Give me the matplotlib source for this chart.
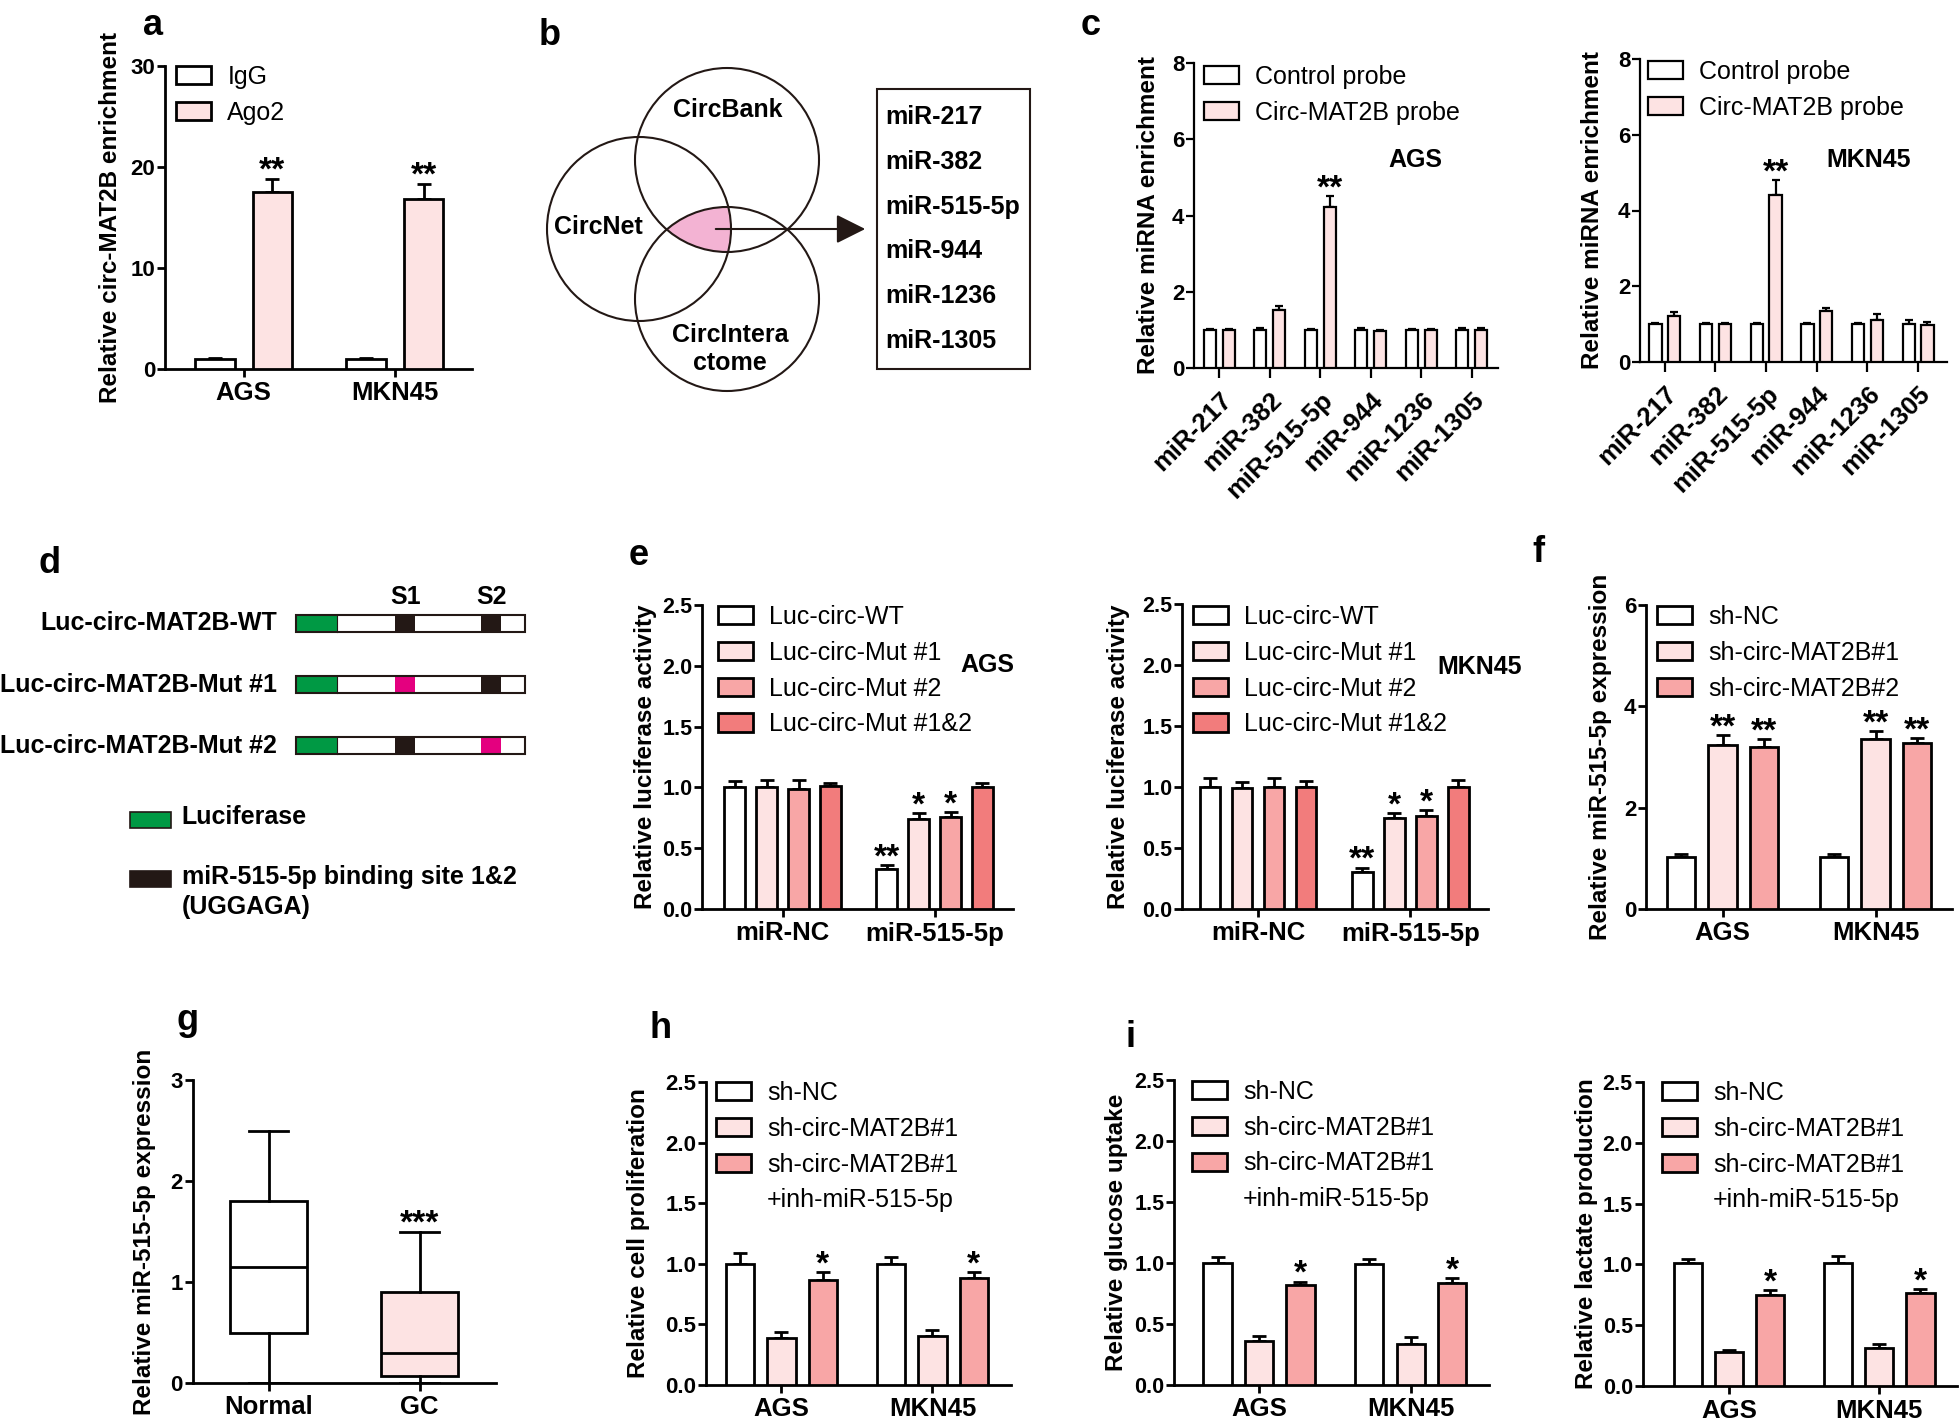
import numpy as np
import matplotlib
matplotlib.use('Agg')
import matplotlib.pyplot as plt
from matplotlib import font_manager
from matplotlib.patches import Rectangle, Circle, Polygon, Patch
from matplotlib.transforms import Affine2D

plt.rcParams['font.family'] = ['Liberation Sans', 'DejaVu Sans']

W, H = 1959, 1420

# ---------------- data ----------------
# a: RIP assay
a_groups = ['AGS', 'MKN45']
a_labels = ['IgG', 'Ago2']
a_igg = [1.0, 1.0]
a_igg_err = [0.05, 0.05]
a_ago2 = [17.5, 16.8]
a_ago2_err = [1.35, 1.55]

# b: venn overlap
b_databases = ['CircBank', 'CircNet', 'CircIntera\nctome']
b_mirnas = ['miR-217', 'miR-382', 'miR-515-5p', 'miR-944', 'miR-1236', 'miR-1305']

# c: RNA pull-down
c_mirnas = ['miR-217', 'miR-382', 'miR-515-5p', 'miR-944', 'miR-1236', 'miR-1305']
c_labels = ['Control probe', 'Circ-MAT2B probe']
c_ags_ctrl = [1.0, 1.0, 1.0, 1.0, 1.0, 1.0]
c_ags_ctrl_err = [0.03, 0.04, 0.02, 0.04, 0.03, 0.05]
c_ags_probe = [1.0, 1.52, 4.23, 0.98, 1.0, 1.0]
c_ags_probe_err = [0.03, 0.10, 0.29, 0.02, 0.03, 0.04]
c_mkn_ctrl = [1.0, 1.0, 1.0, 1.0, 1.0, 1.01]
c_mkn_ctrl_err = [0.04, 0.04, 0.03, 0.03, 0.03, 0.09]
c_mkn_probe = [1.22, 1.0, 4.40, 1.34, 1.12, 0.98]
c_mkn_probe_err = [0.09, 0.02, 0.40, 0.08, 0.14, 0.07]

# d: reporter constructs
d_constructs = ['Luc-circ-MAT2B-WT', 'Luc-circ-MAT2B-Mut #1', 'Luc-circ-MAT2B-Mut #2']
d_sites = ['S1', 'S2']
d_site_mutated = [[False, False], [True, False], [False, True]]
d_legend = ['Luciferase', 'miR-515-5p binding site 1&2\n(UGGAGA)']

# e: luciferase reporter
e_groups = ['miR-NC', 'miR-515-5p']
e_labels = ['Luc-circ-WT', 'Luc-circ-Mut #1', 'Luc-circ-Mut #2', 'Luc-circ-Mut #1&2']
e_ags = [[1.0, 0.33], [1.0, 0.74], [0.99, 0.76], [1.01, 1.0]]
e_ags_err = [[0.05, 0.03], [0.06, 0.05], [0.07, 0.035], [0.03, 0.04]]
e_mkn = [[1.0, 0.30], [0.99, 0.75], [1.0, 0.76], [1.0, 1.0]]
e_mkn_err = [[0.07, 0.04], [0.05, 0.035], [0.07, 0.05], [0.05, 0.06]]

# f: miR-515-5p after knockdown
f_groups = ['AGS', 'MKN45']
f_labels = ['sh-NC', 'sh-circ-MAT2B#1', 'sh-circ-MAT2B#2']
f_vals = [[1.02, 1.02], [3.24, 3.36], [3.2, 3.27]]
f_errs = [[0.07, 0.06], [0.19, 0.15], [0.15, 0.11]]

# g: tissue expression (box plot summary)
g_groups = ['Normal', 'GC']
g_whislo = [0.0, 0.0]
g_q1 = [0.5, 0.07]
g_med = [1.15, 0.3]
g_q3 = [1.8, 0.9]
g_whishi = [2.5, 1.5]

# h / i: rescue experiments
hi_groups = ['AGS', 'MKN45']
hi_labels = ['sh-NC', 'sh-circ-MAT2B#1', 'sh-circ-MAT2B#1', '+inh-miR-515-5p']
h_vals = [[1.0, 1.0], [0.385, 0.405], [0.865, 0.885]]
h_errs = [[0.085, 0.06], [0.055, 0.05], [0.065, 0.05]]
i_glu_vals = [[1.0, 0.99], [0.36, 0.34], [0.817, 0.833]]
i_glu_errs = [[0.05, 0.04], [0.04, 0.056], [0.03, 0.04]]
i_lac_vals = [[1.008, 1.008], [0.277, 0.309], [0.748, 0.761]]
i_lac_errs = [[0.035, 0.065], [0.02, 0.036], [0.04, 0.033]]

# ---------------- styles ----------------
WHITE = '#FFFFFF'
LIGHT = '#FDE3E3'
MID = '#F8A6A6'
STRONG = '#F27C7C'
INK = '#231815'
STAR_SIZE = 24

# condensed tick numbers for panels e and i (falls back to a smaller regular font)
try:
    font_manager.findfont('Liberation Sans Narrow', fallback_to_default=False)
    NARROW = dict(family=['Liberation Sans Narrow', 'Liberation Sans'], size=17)
except ValueError:
    NARROW = dict(family=['Liberation Sans'], size=15.5)
REGULAR = dict(family=['Liberation Sans'], size=16)

fig = plt.figure(figsize=(W / 100, H / 100), dpi=100)
fig.patch.set_facecolor('white')
# pixel transform (origin top-left, like the reference image)
PX = Affine2D().scale(1.0 / W, -1.0 / H).translate(0, 1) + fig.transFigure


def px_rect(x0, x1, ytop, ybot):
    return [x0 / W, 1 - ybot / H, (x1 - x0) / W, (ybot - ytop) / H]


def style_axes(ax, lw):
    ax.set_facecolor('none')
    for s in ['top', 'right']:
        ax.spines[s].set_visible(False)
    for s in ['left', 'bottom']:
        ax.spines[s].set_linewidth(lw)
    ax.tick_params(direction='out', length=6, width=lw, pad=3)
    ax.tick_params(axis='y', length=5.5, pad=1.5)


def add_legend(ax, labels, colors, x, y, lw=2.0, blank=()):
    handles = []
    for k, c in enumerate(colors):
        if k in blank:
            handles.append(Patch(facecolor='none', edgecolor='none'))
        else:
            handles.append(Patch(facecolor=c, edgecolor='black', linewidth=lw))
    ax.legend(handles, labels, loc='upper left', bbox_to_anchor=(x, y - 10),
              bbox_transform=PX, frameon=False, fontsize=18, handlelength=1.4,
              handleheight=0.75, handletextpad=0.65, labelspacing=0.47,
              borderpad=0, borderaxespad=0)


def bar_chart(rect, xlim, ymax, yticks, ylabels, groups, values, errors, colors,
              offsets, width, ylabel, ylabel_x, stars, lw=2.0, capsize=5,
              rot=0, tickfont=REGULAR):
    ax = fig.add_axes(px_rect(*rect))
    style_axes(ax, lw)
    x = np.arange(len(groups))
    for k, (vals, errs) in enumerate(zip(values, errors)):
        xs = x + offsets[k]
        ax.bar(xs, vals, width, color=colors[k], edgecolor='black', linewidth=lw, zorder=3)
        ax.errorbar(xs, vals, yerr=[np.zeros(len(vals)), errs], fmt='none', ecolor='black',
                    elinewidth=lw, capsize=capsize, capthick=lw, zorder=2)
    for g, s, txt in stars:
        top = values[s][g] + errors[s][g]
        ax.annotate(txt, (g + offsets[s], top), xytext=(0, -1), textcoords='offset points',
                    ha='center', va='baseline', fontsize=STAR_SIZE, fontweight='bold')
    ax.set_xlim(xlim)
    ax.set_ylim(0, ymax)
    ax.set_yticks(yticks)
    ax.set_yticklabels(ylabels, fontweight='bold', family=tickfont['family'],
                       fontsize=tickfont['size'])
    ax.set_xticks(x)
    if rot:
        ax.set_xticklabels(groups, fontsize=18.5, fontweight='bold', rotation=rot,
                           ha='right', va='top', rotation_mode='anchor')
        ax.tick_params(axis='x', pad=7)
    else:
        ax.set_xticklabels(groups, fontsize=18.5, fontweight='bold')
    ax.set_ylabel(ylabel, fontsize=17.5, fontweight='bold')
    ax.yaxis.set_label_coords((ylabel_x - rect[0]) / (rect[1] - rect[0]), 0.5)
    return ax


# overlay for diagrams and panel letters
ax0 = fig.add_axes([0, 0, 1, 1])
ax0.set_xlim(0, W)
ax0.set_ylim(H, 0)
ax0.axis('off')

for letter, lx, ly in [('a', 143, 35), ('b', 539, 45), ('c', 1081, 35), ('d', 38, 573),
                       ('e', 629, 565), ('f', 1532, 562), ('g', 176, 1030),
                       ('h', 649, 1038), ('i', 1125, 1047)]:
    ax0.text(lx, ly, letter, fontsize=26, fontweight='bold', ha='left', va='baseline')

# ---- a ----
ax = bar_chart((165, 472, 66, 369), (-0.52, 1.51), 30, [0, 10, 20, 30],
               ['0', '10', '20', '30'], a_groups, [a_igg, a_ago2], [a_igg_err, a_ago2_err],
               [WHITE, LIGHT], [-0.19, 0.19], 0.26, 'Relative circ-MAT2B enrichment', 122,
               [(0, 1, '**'), (1, 1, '**')])
add_legend(ax, a_labels, [WHITE, LIGHT], 176, 75)

# ---- b: venn ----
venn_centers = [(727, 160), (639, 229), (727, 299)]
venn_r = 92
t = np.linspace(0, 2 * np.pi, 1440, endpoint=False)
pts = []
for cx, cy in venn_centers:
    ring = np.column_stack([cx + venn_r * np.cos(t), cy + venn_r * np.sin(t)])
    inside = np.all([np.hypot(ring[:, 0] - ox, ring[:, 1] - oy) <= venn_r + 1e-6
                     for ox, oy in venn_centers], axis=0)
    pts.append(ring[inside])
pts = np.vstack(pts)
cen = pts.mean(axis=0)
pts = pts[np.argsort(np.arctan2(pts[:, 1] - cen[1], pts[:, 0] - cen[0]))]
ax0.add_patch(Polygon(pts, closed=True, facecolor='#F3B3D3', edgecolor='none', zorder=1))
for cx, cy in venn_centers:
    ax0.add_patch(Circle((cx, cy), venn_r, fill=False, edgecolor=INK, lw=1.5, zorder=2))
for name, (tx, ty) in zip(b_databases, [(728, 110), (598, 227), (730, 349)]):
    ax0.text(tx, ty, name, fontsize=18, fontweight='bold', ha='center', va='center',
             linespacing=1.25, zorder=3)
ax0.annotate('', xy=(868, 229), xytext=(713, 229),
             arrowprops=dict(arrowstyle='-|>,head_length=0.6,head_width=0.3', lw=1.5,
                             color=INK, mutation_scale=30), zorder=3)
ax0.add_patch(Rectangle((877, 89), 153, 280, fill=False, edgecolor=INK, lw=1.5))
for k, mir in enumerate(b_mirnas):
    ax0.text(885, 117 + k * 44.8, mir, fontsize=18, fontweight='bold', ha='left', va='center')

# ---- c ----
for rect, xlim, ctrl, ctrl_err, probe, probe_err, cell, cell_xy, ylx, leg_xy in [
        ((1194, 1498, 63, 368), (-0.5, 5.52), c_ags_ctrl, c_ags_ctrl_err, c_ags_probe,
         c_ags_probe_err, 'AGS', (1415, 160), 1160, (1204, 75)),
        ((1640, 1947, 59, 362), (-0.49, 5.57), c_mkn_ctrl, c_mkn_ctrl_err, c_mkn_probe,
         c_mkn_probe_err, 'MKN45', (1869, 160), 1604, (1648, 70))]:
    ax = bar_chart(rect, xlim, 8, [0, 2, 4, 6, 8], ['0', '2', '4', '6', '8'], c_mirnas,
                   [ctrl, probe], [ctrl_err, probe_err], [WHITE, LIGHT], [-0.185, 0.185], 0.24,
                   'Relative miRNA enrichment', ylx, [(2, 1, '**')], lw=1.6, capsize=3, rot=45)
    ax.tick_params(axis='x', length=7)
    ax.text(cell_xy[0], cell_xy[1], cell, transform=PX, ha='center', va='center',
            fontsize=18, fontweight='bold')
    add_legend(ax, c_labels, [WHITE, LIGHT], leg_xy[0], leg_xy[1], lw=1.6)

# ---- d: constructs ----
bar_x0, bar_x1, bar_h = 295.6, 524.5, 17
luc_w = 41.2
site_x = [395.3, 481.4]
site_w = 19.8
for k, (name, muts) in enumerate(zip(d_constructs, d_site_mutated)):
    yc = 623.3 + k * 61.2
    ax0.add_patch(Rectangle((bar_x0, yc - bar_h / 2), luc_w, bar_h, facecolor='#009944',
                            edgecolor='none', zorder=2))
    for sx, mut in zip(site_x, muts):
        ax0.add_patch(Rectangle((sx, yc - bar_h / 2), site_w, bar_h,
                                facecolor='#E4007F' if mut else INK, edgecolor='none', zorder=2))
    ax0.add_patch(Rectangle((bar_x0, yc - bar_h / 2), bar_x1 - bar_x0, bar_h, fill=False,
                            edgecolor=INK, lw=1.5, zorder=3))
    ax0.plot([bar_x0 + luc_w] * 2, [yc - bar_h / 2, yc + bar_h / 2], color=INK, lw=0.8, zorder=3)
    ax0.text(277, yc, name, fontsize=18, fontweight='bold', ha='right', va='center')
for sx, s in zip(site_x, d_sites):
    ax0.text(sx + site_w / 2, 597, s, fontsize=18, fontweight='bold', ha='center', va='center')
for (ly, color), lab in zip([(819.5, '#009944'), (878.7, INK)], d_legend):
    ax0.add_patch(Rectangle((130.4, ly - 8), 40.4, 16, facecolor=color, edgecolor=INK, lw=1.2))
    ax0.text(181.8, ly - 14, lab, fontsize=18, fontweight='bold', ha='left', va='top',
             linespacing=1.35)

# ---- e ----
e_colors = [WHITE, LIGHT, MID, STRONG]
e_offsets = [-0.315, -0.105, 0.105, 0.315]
e_stars = [(1, 0, '**'), (1, 1, '*'), (1, 2, '*')]
for rect, xlim, vals, errs, cell, cell_xy, ylx, leg_x in [
        ((702, 1013, 605, 909), (-0.53, 1.516), e_ags, e_ags_err, 'AGS', (987, 665), 657, 718),
        ((1182, 1488, 604, 909), (-0.5, 1.51), e_mkn, e_mkn_err, 'MKN45', (1480, 667), 1130, 1193)]:
    ax = bar_chart(rect, xlim, 2.5, [0, 0.5, 1.0, 1.5, 2.0, 2.5],
                   ['0.0', '0.5', '1.0', '1.5', '2.0', '2.5'], e_groups, vals, errs, e_colors,
                   e_offsets, 0.135, 'Relative luciferase activity', ylx, e_stars,
                   tickfont=NARROW)
    ax.text(cell_xy[0], cell_xy[1], cell, transform=PX, ha='center', va='center',
            fontsize=18, fontweight='bold')
    add_legend(ax, e_labels, e_colors, leg_x, 615)

# ---- f ----
ax = bar_chart((1646, 1952, 605, 909), (-0.5, 1.5), 6, [0, 2, 4, 6], ['0', '2', '4', '6'],
               f_groups, f_vals, f_errs, [WHITE, LIGHT, MID], [-0.27, 0, 0.27], 0.186,
               'Relative miR-515-5p expression', 1612,
               [(0, 1, '**'), (0, 2, '**'), (1, 1, '**'), (1, 2, '**')])
add_legend(ax, f_labels, [WHITE, LIGHT, MID], 1657, 615)

# ---- g: box plot ----
ax = fig.add_axes(px_rect(192.5, 496, 1080, 1383))
style_axes(ax, 2.0)
stats = [dict(whislo=g_whislo[k], q1=g_q1[k], med=g_med[k], q3=g_q3[k], whishi=g_whishi[k],
              label=g_groups[k]) for k in range(len(g_groups))]
bp = ax.bxp(stats, positions=[0, 1], widths=0.51, capwidths=0.26, showfliers=False,
            patch_artist=True, boxprops=dict(linewidth=2, edgecolor='black'),
            whiskerprops=dict(linewidth=2), capprops=dict(linewidth=2),
            medianprops=dict(color='black', linewidth=2))
for patch, c in zip(bp['boxes'], [WHITE, LIGHT]):
    patch.set_facecolor(c)
ax.annotate('***', (1, g_whishi[1]), xytext=(0, -1), textcoords='offset points',
            ha='center', va='baseline', fontsize=STAR_SIZE, fontweight='bold')
ax.set_xlim(-0.505, 1.505)
ax.set_ylim(0, 3)
ax.set_yticks([0, 1, 2, 3])
ax.set_yticklabels(['0', '1', '2', '3'], fontweight='bold', fontsize=16)
ax.set_xticks([0, 1])
ax.set_xticklabels(g_groups, fontsize=18.5, fontweight='bold')
ax.set_ylabel('Relative miR-515-5p expression', fontsize=17.5, fontweight='bold')
ax.yaxis.set_label_coords((156 - 192.5) / (496 - 192.5), 0.5)

# ---- h / i ----
hi_colors = [WHITE, LIGHT, MID]
hi_offsets = [-0.273, 0, 0.273]
hi_stars = [(0, 2, '*'), (1, 2, '*')]
for rect, xlim, vals, errs, ylabel, ylx, leg_x, leg_y, tf in [
        ((706, 1011, 1082, 1385), (-0.5, 1.52), h_vals, h_errs, 'Relative cell proliferation',
         650, 716, 1091, REGULAR),
        ((1174, 1489, 1080, 1385), (-0.56, 1.516), i_glu_vals, i_glu_errs,
         'Relative glucose uptake', 1128, 1192, 1090, NARROW),
        ((1642.5, 1957, 1082, 1386), (-0.574, 1.516), i_lac_vals, i_lac_errs,
         'Relative lactate production', 1598, 1662, 1091, NARROW)]:
    ax = bar_chart(rect, xlim, 2.5, [0, 0.5, 1.0, 1.5, 2.0, 2.5],
                   ['0.0', '0.5', '1.0', '1.5', '2.0', '2.5'], hi_groups, vals, errs,
                   hi_colors, hi_offsets, 0.187, ylabel, ylx, hi_stars, tickfont=tf)
    add_legend(ax, hi_labels, hi_colors + ['none'], leg_x, leg_y, blank=(3,))

fig.savefig('out.png', dpi=100, facecolor='white')
